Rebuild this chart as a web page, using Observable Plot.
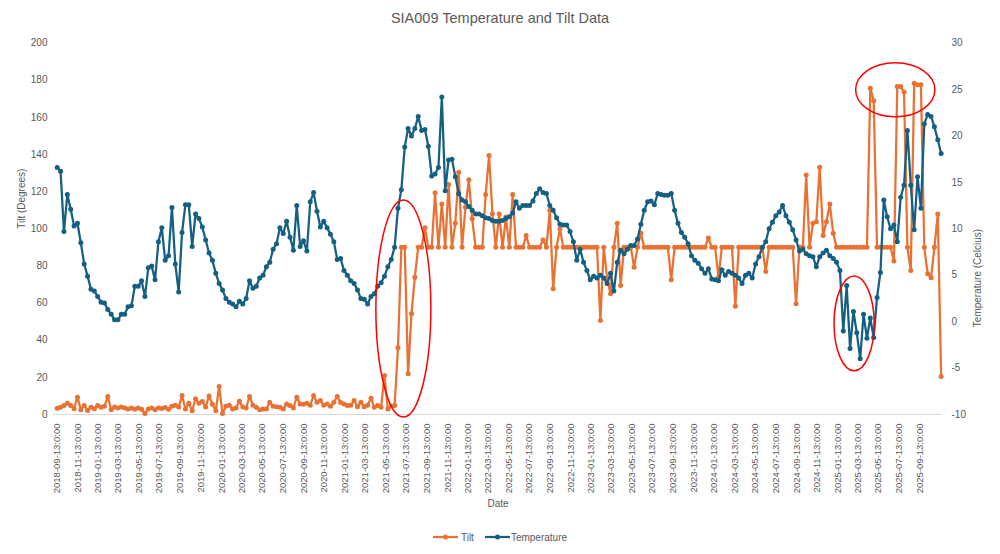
<!DOCTYPE html>
<html><head><meta charset="utf-8">
<script src="https://cdn.jsdelivr.net/npm/d3@7"></script>
<script src="https://cdn.jsdelivr.net/npm/@observablehq/plot@0.6"></script>
<style>
body{margin:0;background:#fff;font-family:"Liberation Sans",Arial,sans-serif;color:#595959;}
#wrap{position:relative;width:1000px;height:554px;overflow:hidden;background:#fff;}
#title{height:30px;line-height:36px;text-align:center;font-size:14.5px;white-space:nowrap;color:#595959;}
#legend{position:absolute;top:529px;left:0;width:1000px;height:16px;display:flex;justify-content:center;align-items:center;font-size:10px;color:#595959;}
#legend .item{display:flex;align-items:center;}
#legend span{color:#595959;}
#legend svg{display:block;}
</style></head>
<body>
<div id="wrap">
<div id="title">SIA009 Temperature and Tilt Data</div>
<div id="chart"></div>
<div id="legend"></div>
</div>
<script>
const startDate = "2018-09-13";
const stepDays = 10;

const tilt = [
3.4,3.9,4.8,6.1,4.8,3.1,9.3,2.5,4.8,2.2,
3.9,3.1,4.8,3.9,4.5,9.7,2.5,4.0,3.5,4.0,
3.5,3.0,3.5,2.8,3.5,2.8,0.5,3.0,3.5,2.5,
3.5,3.2,3.8,2.8,4.5,5.0,4.0,10.2,3.0,6.0,
2.0,8.5,6.0,7.0,4.0,10.0,5.5,2.0,15.1,0.5,
4.5,5.0,3.0,3.5,7.2,4.0,3.5,9.7,5.0,3.9,
2.5,3.0,3.0,6.6,4.5,4.2,3.9,3.0,5.7,4.8,
3.5,9.3,5.7,5.5,6.0,5.0,10.2,6.6,7.5,5.0,
5.7,4.5,6.6,9.7,6.5,5.7,4.8,5.0,7.5,4.2,
6.6,4.2,5.0,8.8,3.9,4.8,3.9,21.0,3.0,4.5,
4.8,35.9,90,90,21.9,54.2,73.9,90,90,100.5,
90,90,119.4,90,113.4,90,123.9,90,103,130.5,
90,111.6,126.4,105.4,90,90,90,118.5,139.5,108.1,
90,108,90,106.3,90,118.5,90,90,90,96.4,
90,90,90,90,94,90,110,67.7,90,100,
90,90,90,90,90,90,90,90,90,90,
90,50.6,90,73.1,65,90,103,69.5,90,90,
90,79.3,90,97.6,90,90,90,90,90,90,
90,90,72.5,90,90,90,90,90,90,90,
90,90,90,95.1,90,90,73.9,90,90,90,
90,58.3,90,90,90,90,90,90,90,90,
77,90,90,90,90,90,90,90,90,59.6,
90,90,129,90,103,103.8,133.2,96.4,103.8,113.4,
97.6,90,90,90,90,90,90,90,90,90,
90,175.7,169,90,90,90,90,90,82.6,176.6,
176.6,173.6,90,77.5,178.4,177.6,177.6,90,75.8,73.6,
90,108,20.5
];

const temperature = [
16.6,16.2,9.7,13.7,12.1,10.3,10.6,8.5,6.2,4.9,
3.5,3.3,2.7,2.1,2.0,1.3,0.8,0.2,0.2,0.8,
0.8,1.6,1.7,3.8,3.8,4.4,2.7,5.8,6.0,4.5,
8.6,10.1,6.6,7.1,12.3,6.2,3.2,9.6,12.6,12.6,
8.1,11.6,11.1,10.2,8.8,7.4,6.6,5.2,4.1,3.4,
2.5,2.1,1.9,1.6,2.2,1.9,2.5,4.4,3.6,3.8,
4.7,5.0,5.9,6.4,7.8,8.4,10.1,9.5,10.8,9.1,
7.7,12.5,8.1,8.7,7.6,12.9,13.9,11.9,10.2,10.8,
10.1,9.4,8.6,6.7,6.8,5.5,5.0,4.4,4.1,3.4,
2.5,2.4,1.9,2.7,3.0,3.8,4.2,4.9,5.9,6.7,
8.0,12.2,14.2,18.8,20.8,20.0,20.8,22.1,20.6,20.7,
18.9,15.7,15.9,16.6,24.2,14.1,17.4,17.5,15.6,13.8,
13.1,12.9,12.4,12.0,11.6,11.6,11.4,11.2,11.1,10.9,
10.8,10.8,10.9,11.1,11.3,11.7,12.9,12.2,12.5,12.5,
12.5,13.0,13.8,14.3,13.9,13.8,12.5,12.0,11.2,10.5,
10.4,10.4,9.7,8.6,6.6,7.8,6.4,5.5,4.5,4.9,
4.7,5.0,4.7,4.1,5.2,3.3,6.4,7.7,7.3,7.8,
8.2,8.2,8.9,10.5,12.0,12.9,13.0,12.6,13.8,13.7,
13.6,13.6,13.8,12.0,10.6,9.6,9.1,8.4,7.1,6.6,
6.3,5.7,5.2,5.7,4.6,4.5,4.4,5.6,5.0,5.4,
5.2,5.0,4.7,4.1,5.0,5.2,4.7,6.2,7.0,8.0,
8.6,10.0,10.7,11.4,11.8,12.5,11.4,10.7,9.9,8.8,
7.6,7.8,7.3,7.1,7.0,5.9,7.0,7.4,7.7,7.1,
6.8,6.4,5.5,-1.0,3.9,-2.9,1.1,-1.2,-4.0,0.8,
-1.8,0.4,-1.7,2.6,5.3,13.1,11.3,10.0,10.4,8.6,
13.4,14.7,20.6,14.7,9.9,15.6,12.2,21.3,22.3,22.1,
21.0,19.6,18.1
];

const tickLabels = [
"2018-09-13:0:00","2018-11-13:0:00",
"2019-01-13:0:00","2019-03-13:0:00","2019-05-13:0:00","2019-07-13:0:00","2019-09-13:0:00","2019-11-13:0:00",
"2020-01-13:0:00","2020-03-13:0:00","2020-05-13:0:00","2020-07-13:0:00","2020-09-13:0:00","2020-11-13:0:00",
"2021-01-13:0:00","2021-03-13:0:00","2021-05-13:0:00","2021-07-13:0:00","2021-09-13:0:00","2021-11-13:0:00",
"2022-01-13:0:00","2022-03-13:0:00","2022-05-13:0:00","2022-07-13:0:00","2022-09-13:0:00","2022-11-13:0:00",
"2023-01-13:0:00","2023-03-13:0:00","2023-05-13:0:00","2023-07-13:0:00","2023-09-13:0:00","2023-11-13:0:00",
"2024-01-13:0:00","2024-03-13:0:00","2024-05-13:0:00","2024-07-13:0:00","2024-09-13:0:00","2024-11-13:0:00",
"2025-01-13:0:00","2025-03-13:0:00","2025-05-13:0:00","2025-07-13:0:00","2025-09-13:0:00"
];
const tiltTicks = [0,20,40,60,80,100,120,140,160,180,200];
const tempTicks = [-10,-5,0,5,10,15,20,25,30];

// red highlight ellipses, given as date range and tilt-axis value range
const highlightStart = ["2021-04-16", "2025-01-03", "2025-03-08"];
const highlightEnd   = ["2021-09-26", "2025-05-02", "2025-10-29"];
const highlightLow   = [-1.6, 23.3, 160.1];
const highlightHigh  = [115.2, 74.3, 189.2];

const ORANGE = "#E97132";
const BLUE = "#156082";

// temperature (-10..30) shares the tilt (0..200) axis
const toY = t => (t + 10) * 5;

const t0 = Date.parse(startDate + "T00:00:00Z");
const data = tilt.map((v, i) => ({
  date: new Date(t0 + i * stepDays * 864e5),
  tilt: v,
  temp: temperature[i]
}));

const tickDates = tickLabels.map(s => new Date(s.slice(0, 10) + "T00:00:00Z"));
const labelByTime = new Map(tickDates.map((d, i) => [+d, tickLabels[i]]));

const chart = Plot.plot({
  width: 1000,
  height: 500,
  marginTop: 12.6,
  marginBottom: 116,
  marginLeft: 53,
  marginRight: 58,
  style: {fontFamily: '"Liberation Sans", Arial, sans-serif', fontSize: "10px", color: "#595959", background: "white"},
  x: {type: "utc", domain: [new Date("2018-09-02T00:00:00Z"), new Date("2025-11-19T00:00:00Z")]},
  y: {domain: [0, 200]},
  marks: [
    Plot.ruleY([0], {stroke: "#d9d9d9", strokeWidth: 1}),
    Plot.axisY({ticks: tiltTicks, tickSize: 0, tickPadding: 6, label: null}),
    Plot.axisY({anchor: "right", ticks: tempTicks.map(toY), tickFormat: d => String(Math.round(d / 5 - 10)), tickSize: 0, tickPadding: 9, label: null}),
    Plot.axisX({ticks: tickDates, tickFormat: d => labelByTime.get(+d), tickRotate: -90, tickSize: 0, tickPadding: 9, label: null, fontSize: 9.5}),
    Plot.line(data, {x: "date", y: "tilt", stroke: ORANGE, strokeWidth: 2.25}),
    Plot.dot(data, {x: "date", y: "tilt", r: 2.5, fill: ORANGE, stroke: null}),
    Plot.line(data, {x: "date", y: d => toY(d.temp), stroke: BLUE, strokeWidth: 2.25}),
    Plot.dot(data, {x: "date", y: d => toY(d.temp), r: 2.5, fill: BLUE, stroke: null}),
    Plot.text(["Tilt (Degrees)"], {text: d => d, frameAnchor: "left", dx: -32, rotate: -90, fontSize: 10}),
    Plot.text(["Temperature (Celcius)"], {text: d => d, frameAnchor: "right", dx: 35, rotate: -90, fontSize: 10}),
    Plot.text(["Date"], {text: d => d, frameAnchor: "bottom", dy: 92, fontSize: 10})
  ]
});
document.getElementById("chart").appendChild(chart);

// highlight ellipses positioned through the chart's own scales
const sx = chart.scale("x"), sy = chart.scale("y");
const NS = "http://www.w3.org/2000/svg";
const g = document.createElementNS(NS, "g");
highlightStart.forEach((s, i) => {
  const xa = sx.apply(new Date(s + "T00:00:00Z")), xb = sx.apply(new Date(highlightEnd[i] + "T00:00:00Z"));
  const ya = sy.apply(highlightHigh[i]), yb = sy.apply(highlightLow[i]);
  const e = document.createElementNS(NS, "ellipse");
  e.setAttribute("cx", (xa + xb) / 2);
  e.setAttribute("cy", (ya + yb) / 2);
  e.setAttribute("rx", Math.abs(xb - xa) / 2);
  e.setAttribute("ry", Math.abs(yb - ya) / 2);
  e.setAttribute("fill", "none");
  e.setAttribute("stroke", "#FF0000");
  e.setAttribute("stroke-width", "1.5");
  g.appendChild(e);
});
chart.appendChild(g);

// legend
const legend = document.getElementById("legend");
[["Tilt", ORANGE, 3, 11], ["Temperature", BLUE, 1, 0]].forEach(([name, color, gap, after]) => {
  const item = document.createElement("div");
  item.className = "item";
  item.style.marginRight = after + "px";
  item.innerHTML = `<svg width="25" height="10"><line x1="0" y1="5" x2="25" y2="5" stroke="${color}" stroke-width="2.25"/><circle cx="12.5" cy="5" r="2.5" fill="${color}"/></svg><span style="margin-left:${gap}px">${name}</span>`;
  legend.appendChild(item);
});
</script>
</body></html>
